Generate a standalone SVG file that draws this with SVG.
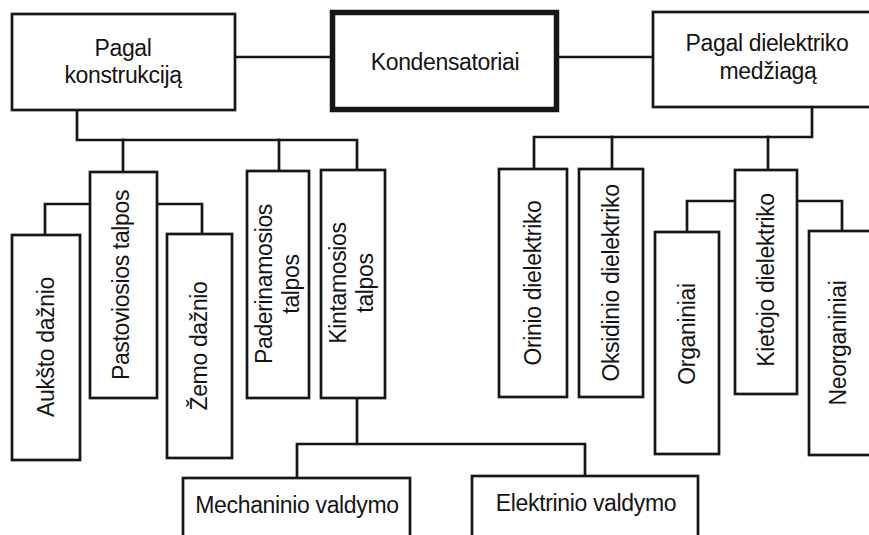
<svg xmlns="http://www.w3.org/2000/svg" width="869" height="535" viewBox="0 0 869 535">
<style>
.box{fill:#fff;stroke:#161616;stroke-width:2.7}
.main{fill:#fff;stroke:#161616;stroke-width:5.5}
.con{fill:none;stroke:#161616;stroke-width:2.7;stroke-linejoin:miter;stroke-linecap:square}
text{font-family:"Liberation Sans",Arial,Helvetica,sans-serif;font-size:23px;letter-spacing:-0.35px;fill:#141414;text-anchor:middle}
</style>
<rect width="869" height="535" fill="#fff"/>
<g id="connectors">
<path class="con" d="M235 57H330"/>
<path class="con" d="M559 57H653"/>
<path class="con" d="M77 110V140H357V170"/>
<path class="con" d="M123 140V172"/>
<path class="con" d="M279 140V171"/>
<path class="con" d="M812 107V137H534V169"/>
<path class="con" d="M612 137V169"/>
<path class="con" d="M768 137V170"/>
<path class="con" d="M90 204H45V235"/>
<path class="con" d="M157 204H202V234"/>
<path class="con" d="M735 201H687V232"/>
<path class="con" d="M797 201H842V231"/>
<path class="con" d="M357 398V444H297V478"/>
<path class="con" d="M357 444H585V476"/>
</g>
<g id="konstrukcija">
<rect class="box" x="12" y="14" width="223" height="96"/>
<text x="123" y="56">Pagal</text>
<text x="123" y="83">konstrukciją</text>
</g>
<g id="kondensatoriai">
<rect class="main" x="332.5" y="12.5" width="224" height="97"/>
<text x="445" y="70">Kondensatoriai</text>
</g>
<g id="dielektriko">
<rect class="box" x="653" y="12" width="230" height="95"/>
<text x="767" y="51">Pagal dielektriko</text>
<text x="768" y="79">medžiagą</text>
</g>
<g id="auksto">
<rect class="box" x="12" y="235" width="68" height="225"/>
<text transform="translate(54,347) rotate(-90)">Aukšto dažnio</text>
</g>
<g id="pastoviosios">
<rect class="box" x="90" y="172" width="67" height="226"/>
<text transform="translate(129,285) rotate(-90)">Pastoviosios talpos</text>
</g>
<g id="zemo">
<rect class="box" x="167" y="234" width="65" height="224"/>
<text transform="translate(207,346) rotate(-90)">Žemo dažnio</text>
</g>
<g id="paderinamosios">
<rect class="box" x="247" y="171" width="62" height="227"/>
<text transform="translate(272,284) rotate(-90)">Paderinamosios</text>
<text transform="translate(299,284) rotate(-90)">talpos</text>
</g>
<g id="kintamosios">
<rect class="box" x="321" y="170" width="64" height="228"/>
<text transform="translate(346,283) rotate(-90)">Kintamosios</text>
<text transform="translate(373,283) rotate(-90)">talpos</text>
</g>
<g id="orinio">
<rect class="box" x="499" y="169" width="68" height="228"/>
<text transform="translate(541,283) rotate(-90)">Orinio dielektriko</text>
</g>
<g id="oksidinio">
<rect class="box" x="579" y="169" width="64" height="228"/>
<text transform="translate(619,283) rotate(-90)">Oksidinio dielektriko</text>
</g>
<g id="organiniai">
<rect class="box" x="655" y="232" width="64" height="222"/>
<text transform="translate(695,334) rotate(-90)">Organiniai</text>
</g>
<g id="kietojo">
<rect class="box" x="735" y="170" width="62" height="224"/>
<text transform="translate(774,280) rotate(-90)">Kietojo dielektriko</text>
</g>
<g id="neorganiniai">
<rect class="box" x="809" y="231" width="64" height="224"/>
<text transform="translate(846,343) rotate(-90)">Neorganiniai</text>
</g>
<g id="mechaninio">
<rect class="box" x="183" y="478" width="227" height="70"/>
<text x="297" y="513">Mechaninio valdymo</text>
</g>
<g id="elektrinio">
<rect class="box" x="472" y="476" width="226" height="72"/>
<text x="586" y="511">Elektrinio valdymo</text>
</g>
</svg>
